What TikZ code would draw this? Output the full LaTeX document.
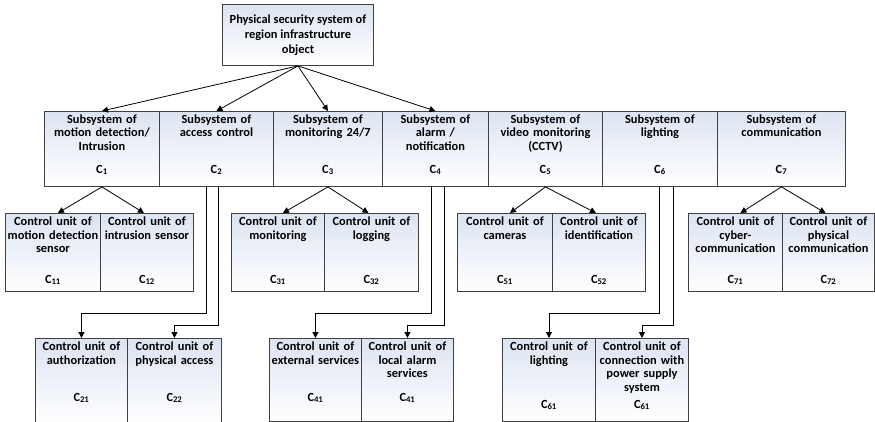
\documentclass[tikz,border=0pt]{standalone}
\usepackage{fontspec}
\setmainfont{Carlito}
\usetikzlibrary{arrows.meta,calc}
\definecolor{bordercol}{HTML}{404040}
\definecolor{topfill}{HTML}{DCE4F2}
\tikzset{
 every node/.style={font=\bfseries\fontsize{12.4}{13.6}\selectfont},
 box/.style={draw=bordercol, line width=0.9pt, top color=topfill, bottom color=white, inner sep=0pt, anchor=north west},
 boxtext/.style={anchor=north, align=center, inner sep=0pt, text width=#1},
 lbl/.style={inner sep=0pt},
 arr/.style={draw=black, line width=0.8pt, -{Triangle[length=6pt,width=6pt]}},
}
\newcommand\mkbox[8]{%
 \pgfmathsetmacro\bw{#4-#2}\pgfmathsetmacro\bh{#5-#3}\pgfmathsetmacro\tw{#4-#2-2}%
 \node[box, minimum width=\bw pt, minimum height=\bh pt] (#1) at (#2,#3) {};
 \node[boxtext=\tw pt] (#1t) at ([yshift=-3.5pt]#1.north) {#6};
 \node[lbl] (#1l) at (#1.center |- 0,#8) {#7};
}
\begin{document}
\begin{tikzpicture}[x=1pt,y=-1pt]
\useasboundingbox (0,0) rectangle (875,422);
% top
\node[box, minimum width=151pt, minimum height=61pt] (top) at (222,4) {};
\node[align=center, inner sep=0pt, font=\bfseries\fontsize{12.4}{15}\selectfont] (topt) at (top.center) {Physical security system of\\region infrastructure\\object};
% subsystems
\mkbox{c1}{44}{111}{159}{186}{Subsystem of\\motion detection/\\Intrusion}{C\textsubscript{1}}{170}
\mkbox{c2}{159}{111}{273}{186}{Subsystem of\\access control}{C\textsubscript{2}}{170}
\mkbox{c3}{273}{111}{382}{186}{Subsystem of\\monitoring 24/7}{C\textsubscript{3}}{170}
\mkbox{c4}{382}{111}{488}{186}{Subsystem of\\alarm /\\notification}{C\textsubscript{4}}{170}
\mkbox{c5}{488}{111}{602}{186}{Subsystem of\\video monitoring\\(CCTV)}{C\textsubscript{5}}{170}
\mkbox{c6}{602}{111}{717}{186}{Subsystem of\\lighting}{C\textsubscript{6}}{170}
\mkbox{c7}{717}{111}{845}{186}{Subsystem of\\communication}{C\textsubscript{7}}{170}
% row 1
\mkbox{c11}{5}{213}{100}{291}{Control unit of\\motion detection\\sensor}{C\textsubscript{11}}{280}
\mkbox{c12}{100}{213}{193}{291}{Control unit of\\intrusion sensor}{C\textsubscript{12}}{280}
\mkbox{c31}{231}{213}{324}{291}{Control unit of\\monitoring}{C\textsubscript{31}}{280}
\mkbox{c32}{324}{213}{418}{291}{Control unit of\\logging}{C\textsubscript{32}}{280}
\mkbox{c51}{457}{213}{552}{291}{Control unit of\\cameras}{C\textsubscript{51}}{280}
\mkbox{c52}{552}{213}{645}{291}{Control unit of\\identification}{C\textsubscript{52}}{280}
\mkbox{c71}{688}{213}{782}{291}{Control unit of\\cyber-\\communication}{C\textsubscript{71}}{280}
\mkbox{c72}{782}{213}{874}{291}{Control unit of\\physical\\communication}{C\textsubscript{72}}{280}
% row 2
\mkbox{c21}{35}{338}{127}{424}{Control unit of\\authorization}{C\textsubscript{21}}{398}
\mkbox{c22}{127}{338}{221}{424}{Control unit of\\physical access}{C\textsubscript{22}}{398}
\mkbox{c41}{269}{338}{361}{421}{Control unit of\\external services}{C\textsubscript{41}}{398}
\mkbox{c42}{361}{338}{453}{421}{Control unit of\\local alarm\\services}{C\textsubscript{41}}{398}
\mkbox{c61}{502}{338}{595}{421}{Control unit of\\lighting}{C\textsubscript{61}}{405}
\mkbox{c62}{595}{338}{688}{421}{Control unit of\\connection with\\power supply\\system}{C\textsubscript{61}}{405}
% connectors from top
\draw[arr] (top.south) -- (c1.north);
\draw[arr] (top.south) -- (c2.north);
\draw[arr] (top.south) -- (c3.north);
\draw[arr] (top.south) -- (c4.north);
% subsystem to row 1
\draw[arr] (c1.south) -- ([xshift=5pt]c11.north);
\draw[arr] (c1.south) -- ([xshift=-3pt]c12.north);
\draw[arr] (c3.south) -- ([xshift=5pt]c31.north);
\draw[arr] (c3.south) -- ([xshift=-3pt]c32.north);
\draw[arr] (c5.south) -- ([xshift=5pt]c51.north);
\draw[arr] (c5.south) -- ([xshift=-3pt]c52.north);
\draw[arr] (c7.south) -- ([xshift=5pt]c71.north);
\draw[arr] (c7.south) -- ([xshift=-3pt]c72.north);
% elbows to row 2
\draw[arr] ([xshift=-10pt]c2.south) |- ([yshift=25pt]c21.north) -- (c21.north);
\draw[arr] ([xshift=2pt]c2.south) |- ([yshift=13pt]c22.north) -- (c22.north);
\draw[arr] ([xshift=-4pt]c4.south) |- ([yshift=25pt]c41.north) -- (c41.north);
\draw[arr] ([xshift=8.5pt]c4.south) |- ([yshift=13pt]c42.north) -- (c42.north);
\draw[arr] ([xshift=-0.5pt]c6.south) |- ([yshift=25pt]c61.north) -- (c61.north);
\draw[arr] ([xshift=13.5pt]c6.south) |- ([yshift=13pt]c62.north) -- (c62.north);
\end{tikzpicture}
\end{document}
